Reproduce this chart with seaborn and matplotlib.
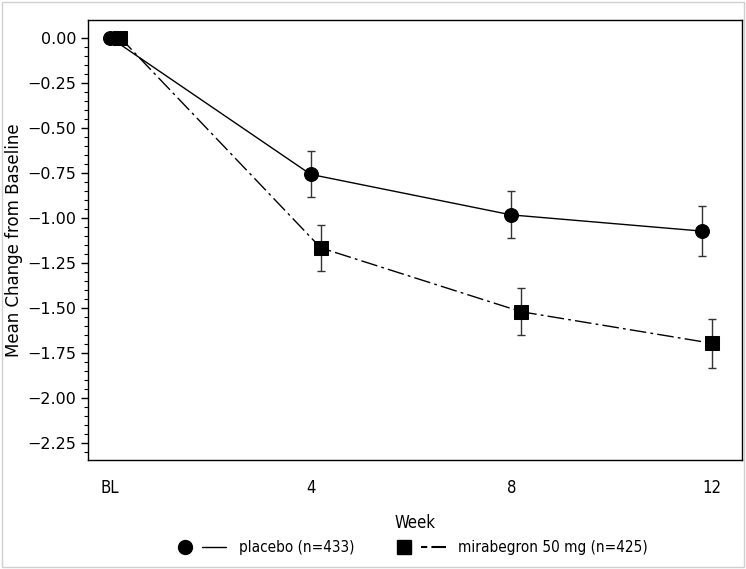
import numpy as np
import matplotlib
matplotlib.use("Agg")
import matplotlib.pyplot as plt
import matplotlib.patches as mpatches
from matplotlib.lines import Line2D
from matplotlib.legend_handler import HandlerTuple
import seaborn as sns
import pandas as pd

# data
week_labels = ["BL", "4", "8", "12"]
week_ticks = [0, 4, 8, 12]
placebo_x = [0.0, 4.0, 8.0, 11.8]
placebo_mean = [0.0, -0.76, -0.985, -1.075]
placebo_se = [0.0, 0.128, 0.13, 0.137]
mira_x = [0.2, 4.2, 8.2, 12.0]
mira_mean = [0.0, -1.168, -1.523, -1.698]
mira_se = [0.0, 0.127, 0.131, 0.135]
labels = ["placebo (n=433)", "mirabegron 50 mg (n=425)"]

df = pd.DataFrame({
    "week": placebo_x + mira_x,
    "mean": placebo_mean + mira_mean,
    "se": placebo_se + mira_se,
    "group": [labels[0]] * 4 + [labels[1]] * 4,
})

sns.set_style("white")
plt.rcParams.update({"text.color": "black", "axes.labelcolor": "black",
                     "xtick.color": "black", "ytick.color": "black"})

fig, ax = plt.subplots(figsize=(7.46, 5.69), dpi=100)
fig.subplots_adjust(left=0.118, right=0.994, top=0.965, bottom=0.192)

# error bars first so markers sit on top
for g in labels:
    d = df[df.group == g]
    ax.errorbar(d.week, d["mean"], yerr=d.se, fmt="none", ecolor="#333333",
                elinewidth=1, capsize=3, capthick=1, zorder=2)

sns.lineplot(data=df, x="week", y="mean", hue="group", style="group",
             palette=["black", "black"], markers=["o", "s"],
             dashes=[(None, None), (12, 3, 2, 3)], markersize=10,
             linewidth=1, markeredgecolor="black", legend=False, ax=ax, zorder=3)

ax.set_xlim(-0.44, 12.59)
ax.set_ylim(-2.345, 0.098)
ax.set_xticks(week_ticks)
ax.set_xticklabels(week_labels, fontsize=12, fontstretch="condensed")
yt = np.arange(0, -2.26, -0.25)
ax.set_yticks(yt)
ax.set_yticklabels([f"{v:.2f}".replace("-", "\u2212") for v in yt], fontsize=11.5)
ax.set_yticks(np.arange(0, -2.35, -0.05), minor=True)
ax.tick_params(axis="y", which="major", length=5, width=1, color="black", left=True)
ax.tick_params(axis="y", which="minor", length=3, width=0.8, color="black", left=True)
ax.tick_params(axis="x", length=0, pad=14)
for s in ax.spines.values():
    s.set_color("black")
    s.set_linewidth(1)

ax.set_xlabel("Week", fontsize=12, fontstretch="condensed", labelpad=12)
ax.set_ylabel("Mean Change from Baseline", fontsize=12)
ax.yaxis.set_label_coords(-0.099, 0.5)

h1 = (Line2D([], [], marker="o", color="black", linestyle="none", markersize=10),
      Line2D([], [], color="black", linewidth=1))
h2 = (Line2D([], [], marker="s", color="black", linestyle="none", markersize=10),
      Line2D([], [], color="black", linewidth=1.5, dashes=(3, 2, 14, 1)))
fig.legend([h1, h2], labels, handler_map={tuple: HandlerTuple(ndivide=None, pad=0.3)},
           loc="center", bbox_to_anchor=(0.55, 0.037), ncol=2, frameon=False,
           handlelength=3.5, columnspacing=2.5,
           prop={"size": 11, "stretch": "condensed"})

fig.patches.append(mpatches.Rectangle((0.003, 0.003), 0.994, 0.994, transform=fig.transFigure,
                                      fill=False, edgecolor="#d0d0d0", linewidth=1))

fig.savefig("out.png", dpi=100)
